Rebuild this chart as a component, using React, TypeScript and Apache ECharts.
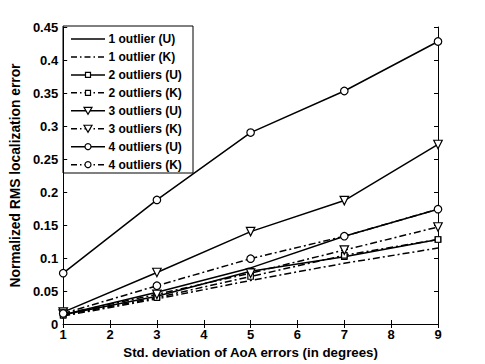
import React, { useEffect, useRef } from "react";
import * as echarts from "echarts";

const xValues = [1, 3, 5, 7, 9];
const seriesNames = [
  "1 outlier (U)",
  "1 outlier (K)",
  "2 outliers (U)",
  "2 outliers (K)",
  "3 outliers (U)",
  "3 outliers (K)",
  "4 outliers (U)",
  "4 outliers (K)",
];
const out1U = [0.014, 0.048, 0.085, 0.133, 0.174];
const out1K = [0.012, 0.038, 0.066, 0.092, 0.115];
const out2U = [0.014, 0.042, 0.080, 0.102, 0.128];
const out2K = [0.013, 0.040, 0.072, 0.104, 0.128];
const out3U = [0.018, 0.078, 0.140, 0.187, 0.272];
const out3K = [0.015, 0.045, 0.077, 0.112, 0.147];
const out4U = [0.077, 0.188, 0.290, 0.353, 0.428];
const out4K = [0.016, 0.058, 0.099, 0.133, 0.174];
const yTicks = [0, 0.05, 0.1, 0.15, 0.2, 0.25, 0.3, 0.35, 0.4, 0.45];

const FONT = "Liberation Sans, Arial, sans-serif";
const DASHDOT = [7, 3, 2, 3];
const TRI_DOWN = "path://M0,0 L10,0 L5,9 Z";

type Kind = "none" | "rect" | "tri" | "circle";
const kinds: Kind[] = ["none", "none", "rect", "rect", "tri", "tri", "circle", "circle"];

function legendGraphic() {
  const x0 = 63;
  const y0 = 26;
  const w = 130;
  const h = 147;
  const rowTop = 39;
  const rowStep = 17.95;
  const children: any[] = [
    { type: "rect", shape: { x: x0, y: y0, width: w, height: h }, style: { fill: "#fff", stroke: "#000", lineWidth: 1 } },
  ];
  seriesNames.forEach((name, i) => {
    const y = rowTop + i * rowStep;
    const dashed = i % 2 === 1;
    children.push({
      type: "line",
      shape: { x1: 71, y1: y, x2: 105, y2: y },
      style: { stroke: "#000", lineWidth: 1.5, lineDash: dashed ? [6, 3, 1.5, 3] : null },
    });
    const cx = 88;
    const k = kinds[i];
    const ms = { fill: "#fff", stroke: "#000", lineWidth: 1.2 };
    if (k === "rect") children.push({ type: "rect", shape: { x: cx - 2.5, y: y - 2.5, width: 5, height: 5 }, style: ms });
    if (k === "circle") children.push({ type: "circle", shape: { cx, cy: y, r: 3 }, style: ms });
    if (k === "tri")
      children.push({ type: "polygon", shape: { points: [[cx - 4, y - 3.5], [cx + 4, y - 3.5], [cx, y + 3.5]] }, style: ms });
    children.push({
      type: "text",
      x: 108.5,
      y,
      style: { text: name, fontFamily: FONT, fontWeight: "bold", fontSize: 12, fill: "#000", verticalAlign: "middle", align: "left" },
    });
  });
  return [{ type: "group", z: 100, children }];
}

export default function App() {
  const ref = useRef<HTMLDivElement>(null);
  useEffect(() => {
    if (!ref.current) return;
    const chart = echarts.init(ref.current, undefined, { renderer: "svg" });
    const all = [out1U, out1K, out2U, out2K, out3U, out3K, out4U, out4K];
    const symMap: Record<Kind, string> = { none: "none", rect: "rect", tri: TRI_DOWN, circle: "circle" };
    const sizeMap: Record<Kind, number> = { none: 0, rect: 5.5, tri: 8.5, circle: 7.5 };
    const series = all.map((vals, i) => ({
      name: seriesNames[i],
      type: "line",
      data: vals.map((v, j) => [xValues[j], v]),
      symbol: symMap[kinds[i]],
      symbolSize: sizeMap[kinds[i]],
      showSymbol: kinds[i] !== "none",
      itemStyle: { color: "#fff", borderColor: "#000", borderWidth: 1.2 },
      lineStyle: { color: "#000", width: 1.5, type: i % 2 === 0 ? "solid" : DASHDOT },
      emphasis: { disabled: true },
      z: 2,
    }));
    chart.setOption({
      animation: false,
      backgroundColor: "#fff",
      grid: { left: 62, right: 47, top: 27, bottom: 40 },
      graphic: legendGraphic(),
      xAxis: [
        {
          type: "value",
          min: 1,
          max: 9,
          interval: 1,
          name: "Std. deviation of AoA errors (in degrees)",
          nameLocation: "middle",
          nameGap: 22,
          nameTextStyle: { fontFamily: FONT, fontWeight: "bold", fontSize: 13.3, color: "#000" },
          axisLine: { lineStyle: { color: "#000", width: 1 } },
          axisTick: { inside: true, length: 4, lineStyle: { color: "#000" } },
          axisLabel: { fontFamily: FONT, fontWeight: "bold", fontSize: 13, color: "#000", margin: 4 },
          splitLine: { show: false },
        },
        {
          type: "value",
          position: "top",
          min: 1,
          max: 9,
          interval: 1,
          axisLine: { lineStyle: { color: "#000", width: 1 } },
          axisTick: { inside: true, length: 4, lineStyle: { color: "#000" } },
          axisLabel: { show: false },
          splitLine: { show: false },
        },
      ],
      yAxis: [
        {
          type: "value",
          min: 0,
          max: 0.45,
          interval: 0.05,
          name: "Normalized RMS localization error",
          nameLocation: "middle",
          nameGap: 33,
          nameTextStyle: { fontFamily: FONT, fontWeight: "bold", fontSize: 13.8, color: "#000" },
          axisLine: { show: true, lineStyle: { color: "#000", width: 1 } },
          axisTick: { show: true, inside: true, length: 4, lineStyle: { color: "#000" } },
          axisLabel: {
            fontFamily: FONT,
            fontWeight: "bold",
            fontSize: 13,
            color: "#000",
            margin: 5,
            formatter: (v: number) => {
              const t = yTicks.find((y) => Math.abs(y - v) < 1e-9);
              return t === undefined ? "" : String(+t.toFixed(2));
            },
          },
          splitLine: { show: false },
        },
        {
          type: "value",
          position: "right",
          min: 0,
          max: 0.45,
          interval: 0.05,
          axisLine: { show: true, lineStyle: { color: "#000", width: 1 } },
          axisTick: { show: true, inside: true, length: 4, lineStyle: { color: "#000" } },
          axisLabel: { show: false },
          splitLine: { show: false },
        },
      ],
      series,
    });
    return () => chart.dispose();
  }, []);
  return <div ref={ref} style={{ position: "fixed", left: 0, top: 0, width: 485, height: 364 }} />;
}
